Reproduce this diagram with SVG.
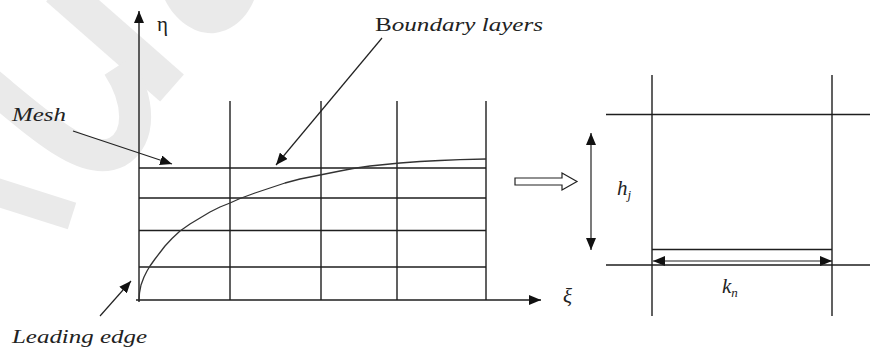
<svg xmlns="http://www.w3.org/2000/svg" width="870" height="351" viewBox="0 0 870 351">
<style>
.wm{fill:none;stroke:#eaeaea;}
.ln{stroke:#1e1e1e;stroke-width:1.4;fill:none;}
.thin{stroke:#222;stroke-width:1.2;fill:none;}
.lbl{font-family:"Liberation Serif","DejaVu Serif",serif;font-size:18px;fill:#222;}
.it{font-style:italic;}
.big{font-size:21px;}
.sub{font-size:13px;}
</style>
<defs>
<marker id="ah" markerWidth="12" markerHeight="10" refX="12" refY="5" orient="auto" markerUnits="userSpaceOnUse">
<path d="M0,0 L12,5 L0,10 Z" fill="#111"/>
</marker>
<marker id="ahs" markerWidth="12" markerHeight="10" refX="0" refY="5" orient="auto" markerUnits="userSpaceOnUse">
<path d="M12,0 L0,5 L12,10 Z" fill="#111"/>
</marker>
</defs>
<rect width="870" height="351" fill="#ffffff"/>
<g id="watermark">
<path class="wm" d="M58,-12 L172,88" stroke-width="36"/>
<path class="wm" d="M-15,80 C40,125 85,168 117,152 C142,138 140,100 118,66" stroke-width="32"/>
<path class="wm" d="M-10,190 L72,216" stroke-width="28"/>
<path d="M165,0 C176,22 196,35 215,33 C235,30 248,15 254,0 Z" fill="#eaeaea"/>
</g>
<g id="connectors">
<line class="ln" x1="139" y1="302" x2="139" y2="11" marker-end="url(#ah)"/>
<line class="ln" x1="136" y1="300" x2="541" y2="300" marker-end="url(#ah)"/>
<line class="thin" x1="73" y1="131" x2="172" y2="164" marker-end="url(#ah)"/>
<line class="thin" x1="382" y1="38" x2="276" y2="165" marker-end="url(#ah)"/>
<line class="thin" x1="100" y1="316" x2="131" y2="281" marker-end="url(#ah)"/>
<line class="thin" x1="591" y1="133" x2="591" y2="250" marker-start="url(#ahs)" marker-end="url(#ah)"/>
<line class="thin" x1="653" y1="261" x2="832" y2="261" marker-start="url(#ahs)" marker-end="url(#ah)"/>
<polygon points="515,178 562,178 562,173 577,181.5 562,190 562,185 515,185" fill="#fff" stroke="#222" stroke-width="1.2"/>
</g>
<g id="mesh-grid">
<line class="ln" x1="230" y1="101" x2="230" y2="300"/>
<line class="ln" x1="321" y1="101" x2="321" y2="300"/>
<line class="ln" x1="397" y1="101" x2="397" y2="300"/>
<line class="ln" x1="486" y1="101" x2="486" y2="300"/>
<line class="ln" x1="139" y1="168" x2="486" y2="168"/>
<line class="ln" x1="139" y1="198" x2="486" y2="198"/>
<line class="ln" x1="139" y1="230.5" x2="486" y2="230.5"/>
<line class="ln" x1="139" y1="267" x2="486" y2="267"/>
</g>
<g id="boundary-curve">
<polyline fill="none" stroke="#333" stroke-width="1.3" stroke-linejoin="round" points="139,300 139.5,293 141,285 144,277 147,271 150,266 155,259 160,252.5 165,246 172,238.5 180,231 190,224 200,218 210,212 220,207 230,203 240,198.5 255,193 270,188 285,183 300,179 320,175 340,171 353,168.5 370,166 385,164.5 400,163 420,161.5 440,160.5 460,159.7 486,159"/>
</g>
<g id="cell">
<line class="ln" x1="652" y1="75" x2="652" y2="316"/>
<line class="ln" x1="832" y1="75" x2="832" y2="316"/>
<line class="ln" x1="606" y1="114.5" x2="870" y2="114.5"/>
<line class="ln" x1="606" y1="265" x2="870" y2="265"/>
<line class="ln" x1="652" y1="249.5" x2="832" y2="249.5"/>
</g>
<g id="labels">
<text class="lbl big" x="157" y="31">η</text>
<text class="lbl it big" x="563" y="303">ξ</text>
<text class="lbl it" x="12" y="121" textLength="54" lengthAdjust="spacingAndGlyphs">Mesh</text>
<text class="lbl it" x="375" y="31" textLength="168" lengthAdjust="spacingAndGlyphs"><tspan style="font-style:normal">B</tspan>oundary layers</text>
<text class="lbl it" x="12" y="343" textLength="135" lengthAdjust="spacingAndGlyphs">Leading edge</text>
<text class="lbl it big" x="617" y="195">h<tspan class="sub" dy="4">j</tspan></text>
<text class="lbl it big" x="722" y="293">k<tspan class="sub" dy="4">n</tspan></text>
</g>
</svg>
